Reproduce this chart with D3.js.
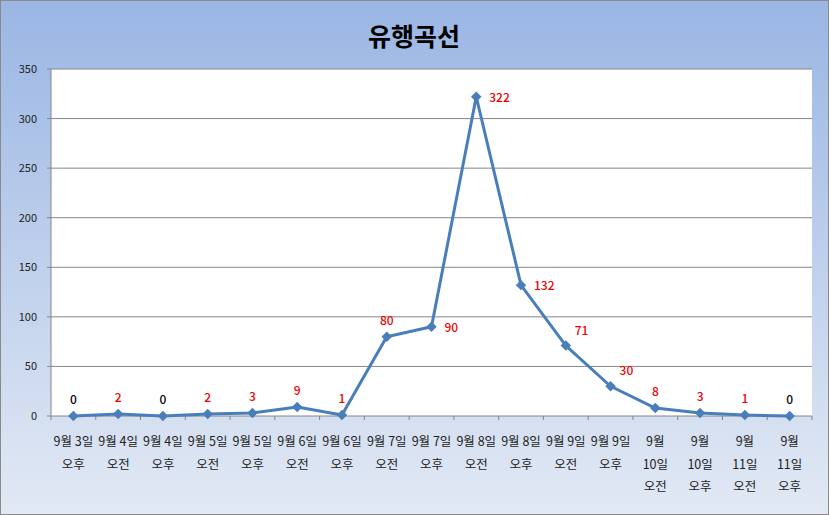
<!DOCTYPE html>
<html><head><meta charset="utf-8">
<script src="https://cdn.jsdelivr.net/npm/d3@7"></script>
<style>html,body{margin:0;padding:0;background:#fff;}svg{display:block;}</style>
</head><body>
<script>
const title = "유행곡선";
const categories = [
  ["9월 3일","오후"],["9월 4일","오전"],["9월 4일","오후"],["9월 5일","오전"],["9월 5일","오후"],
  ["9월 6일","오전"],["9월 6일","오후"],["9월 7일","오전"],["9월 7일","오후"],["9월 8일","오전"],
  ["9월 8일","오후"],["9월 9일","오전"],["9월 9일","오후"],["9월","10일","오전"],["9월","10일","오후"],
  ["9월","11일","오전"],["9월","11일","오후"]
];
const values = [0,2,0,2,3,9,1,80,90,322,132,71,30,8,3,1,0];
const labelColors = ["#000","#e00","#000","#e00","#e00","#e00","#e00","#e00","#e00","#e00","#e00","#e00","#e00","#e00","#e00","#e00","#000"];
const labelPos = ["top","top","top","top","top","top","top","top","right","right","right","topright","topright","top","top","top","top"];
const yTicks = [0,50,100,150,200,250,300,350];

const W=829,H=515;
const m={l:51,t:69,r:17,b:99};
const svg=d3.select("body").append("svg").attr("width",W).attr("height",H);
const defs=svg.append("defs");
const g=defs.append("linearGradient").attr("id","bg").attr("x1",0).attr("y1",0).attr("x2",0).attr("y2",1);
g.append("stop").attr("offset","0%").attr("stop-color","#9ab6e4");
g.append("stop").attr("offset","100%").attr("stop-color","#e2e9f4");
svg.append("rect").attr("x",0.5).attr("y",0.5).attr("width",W-1).attr("height",H-1).attr("fill","url(#bg)").attr("stroke","#8a8a8a");

svg.append("text").attr("x",414).attr("y",46).attr("text-anchor","middle")
  .attr("font-family","'Noto Sans CJK KR'").attr("font-weight","bold").attr("font-size",25).attr("fill","#000").text(title);

const x=d3.scaleBand().domain(d3.range(categories.length)).range([m.l,W-m.r]);
const y=d3.scaleLinear().domain([0,350]).range([H-m.b,m.t]);

svg.append("rect").attr("x",m.l).attr("y",m.t).attr("width",W-m.r-m.l).attr("height",H-m.b-m.t).attr("fill","#fff");

svg.append("g").selectAll("line").data(yTicks).join("line")
  .attr("x1",m.l-4).attr("x2",W-m.r).attr("y1",d=>y(d)).attr("y2",d=>y(d)).attr("stroke","#868686").attr("stroke-width",1);
svg.append("line").attr("x1",m.l).attr("x2",m.l).attr("y1",m.t).attr("y2",H-m.b).attr("stroke","#868686");
svg.append("g").selectAll("line").data(d3.range(categories.length+1)).join("line")
  .attr("x1",d=>m.l+d*x.step()).attr("x2",d=>m.l+d*x.step()).attr("y1",H-m.b).attr("y2",H-m.b+4).attr("stroke","#868686");

svg.append("g").selectAll("text").data(yTicks).join("text")
  .attr("x",37).attr("y",d=>y(d)+4).attr("text-anchor","end")
  .attr("font-family","'Noto Sans CJK KR'").attr("font-size",11).attr("fill","#222").text(d=>d);

const xl=svg.append("g");
categories.forEach((c,i)=>{
  const t=xl.append("text").attr("text-anchor","middle").attr("font-family","'Noto Sans CJK KR'").attr("font-size",12.5).attr("fill","#222");
  c.forEach((s,j)=>t.append("tspan").attr("x",x(i)+x.bandwidth()/2).attr("y",446+j*22.5).text(s));
});

const cx=i=>x(i)+x.bandwidth()/2;
svg.append("path").datum(values).attr("fill","none").attr("stroke","#4a7ebb").attr("stroke-width",3).attr("stroke-linejoin","round")
  .attr("d",d3.line().x((d,i)=>cx(i)).y(d=>y(d)));
svg.append("g").selectAll("path").data(values).join("path")
  .attr("transform",(d,i)=>`translate(${cx(i)},${y(d)})`)
  .attr("d",d3.symbol(d3.symbolDiamond2,70)).attr("fill","#4a7ebb");

svg.append("g").selectAll("text").data(values).join("text")
  .attr("x",(d,i)=>labelPos[i]==="right"?cx(i)+13:labelPos[i]==="topright"?cx(i)+9:cx(i))
  .attr("y",(d,i)=>labelPos[i]==="right"?y(d)+5:labelPos[i]==="topright"?y(d)-11:y(d)-12)
  .attr("text-anchor",(d,i)=>labelPos[i]==="top"?"middle":"start")
  .attr("font-family","'Noto Sans CJK KR'").attr("font-weight","500").attr("font-size",12)
  .attr("fill",(d,i)=>labelColors[i]).text(d=>d);
</script>
</body></html>
